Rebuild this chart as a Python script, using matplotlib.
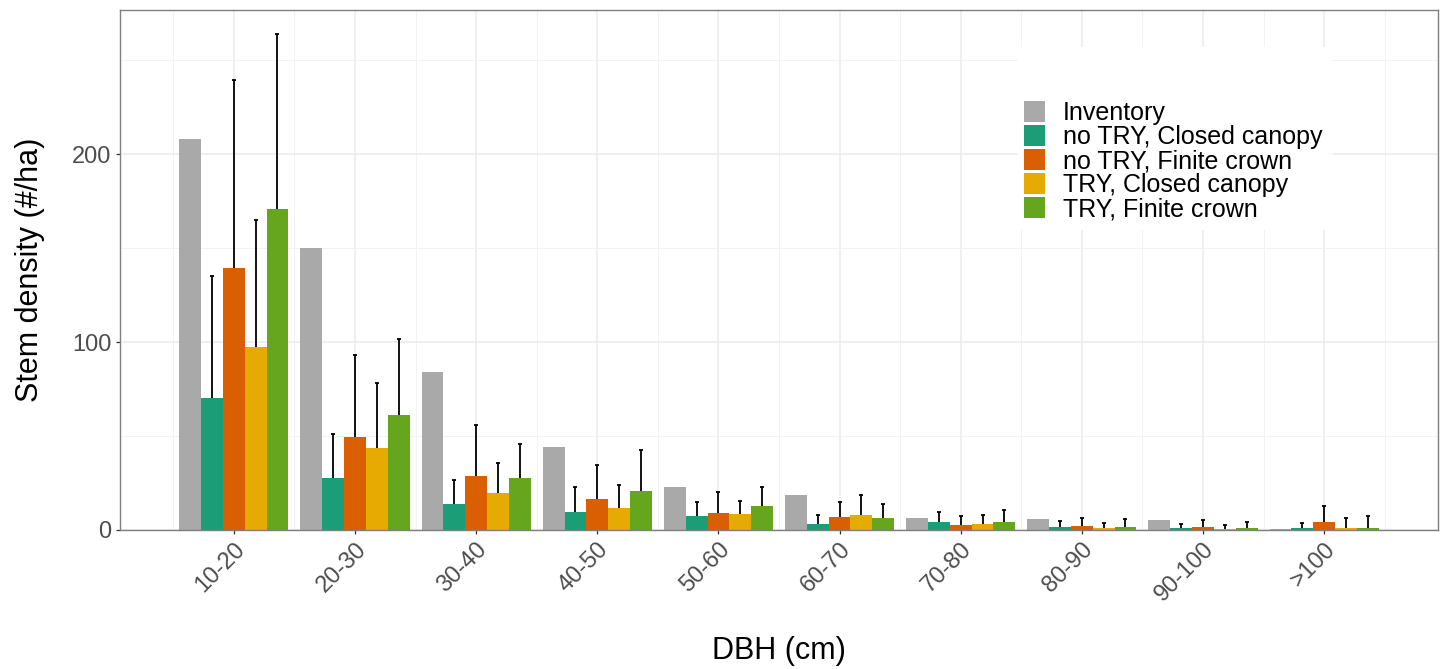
import matplotlib
matplotlib.use("Agg")
import matplotlib.pyplot as plt
from matplotlib.patches import Rectangle, Patch
import numpy as np

plt.rcParams['font.family'] = ['Liberation Sans', 'DejaVu Sans']

categories = ['10-20', '20-30', '30-40', '40-50', '50-60', '60-70', '70-80', '80-90', '90-100', '>100']
series_names = ['Inventory', 'no TRY, Closed canopy', 'no TRY, Finite crown',
                'TRY, Closed canopy', 'TRY, Finite crown']
colors = ['#A9A9A9', '#1B9E77', '#D95F02', '#E6AB02', '#66A61E']

inventory = [208, 150, 84, 44, 23, 18.5, 6.6, 5.7, 5.5, 0.4]
notry_closed = [70, 27.5, 13.7, 9.4, 7.6, 3.4, 4.3, 1.4, 0.9, 0.9]
notry_closed_up = [135, 51, 26.6, 22.7, 14.7, 8.2, 9.6, 4.8, 3.4, 3.7]
notry_finite = [139.5, 49.6, 28.5, 16.7, 9.0, 6.9, 2.7, 2.0, 1.4, 4.1]
notry_finite_up = [239.5, 93.3, 56, 34.8, 20, 15.1, 7.6, 6.4, 5.1, 12.8]
try_closed = [97.5, 43.6, 19.5, 11.9, 8.7, 8.0, 3.2, 0.9, 0.4, 1.2]
try_closed_up = [165, 78, 35.6, 24.1, 15.2, 18.6, 8.2, 3.7, 2.5, 6.2]
try_finite = [171, 61, 27.5, 20.6, 12.9, 6.6, 4.3, 1.8, 0.9, 1.2]
try_finite_up = [264, 101.6, 45.6, 42.6, 22.7, 13.8, 10.8, 5.9, 4.1, 7.4]

values = [inventory, notry_closed, notry_finite, try_closed, try_finite]
uppers = [None, notry_closed_up, notry_finite_up, try_closed_up, try_finite_up]

W, H = 1445, 669
fig = plt.figure(figsize=(W / 100, H / 100), dpi=100)
ax = fig.add_axes([120 / W, 1 - 530 / H, (1438 - 120) / W, (530 - 9.5) / H])

x = np.arange(len(categories))
bw = 0.18
for j, (vals, up) in enumerate(zip(values, uppers)):
    xs = x + (j - 2) * bw
    vals = np.array(vals)
    ax.bar(xs, vals, width=bw, color=colors[j], zorder=2, linewidth=0)
    if up is not None:
        up = np.array(up)
        sd = up - vals
        # symmetric error bar; lower half is hidden behind the bar
        ax.errorbar(xs, vals, yerr=sd, fmt='none',
                    ecolor='black', elinewidth=1.3, capsize=1.7, capthick=1.3, zorder=1.8)

ax.set_xlim(-0.94, len(categories) - 1 + 0.94)
ax.set_ylim(0, 277)

# grid
ax.set_axisbelow(True)
ax.set_yticks([0, 100, 200])
ax.set_yticks([50, 150, 250], minor=True)
ax.set_xticks(x)
ax.set_xticks(np.arange(-0.5, len(categories) + 0.5, 1.0), minor=True)
ax.grid(which='major', color='#EBEBEB', linewidth=1.1, zorder=0)
ax.grid(which='minor', color='#F2F2F2', linewidth=0.7, zorder=0)
ax.tick_params(which='minor', length=0)
ax.tick_params(which='major', length=3, width=0.9, color='#333333', labelcolor='#4D4D4D',
               labelsize=17, pad=3)
ax.set_xticklabels(categories, rotation=45, ha='right', va='top', rotation_mode='anchor')

for s in ax.spines.values():
    s.set_color('#7F7F7F')
    s.set_linewidth(1.0)

ax.set_xlabel('DBH (cm)', fontsize=22, labelpad=22)
ax.set_ylabel('Stem density (#/ha)', fontsize=22, labelpad=20)

# white legend background box
bg = Rectangle((1018 / W, 1 - 230 / H), (1333 - 1018) / W, (230 - 47) / H,
               transform=fig.transFigure, facecolor='white', edgecolor='none', zorder=1)
ax.add_artist(bg)
bg.set_zorder(1)

handles = [Patch(facecolor=c, edgecolor='none') for c in colors]
leg = fig.legend(handles, series_names, loc='upper left',
                 bbox_to_anchor=(1024 / W, 1 - 101 / H), frameon=False,
                 fontsize=18, handlelength=0.84, handleheight=0.88,
                 handletextpad=0.72, labelspacing=0.0, borderpad=0, borderaxespad=0)

fig.savefig('out.png', dpi=100)
